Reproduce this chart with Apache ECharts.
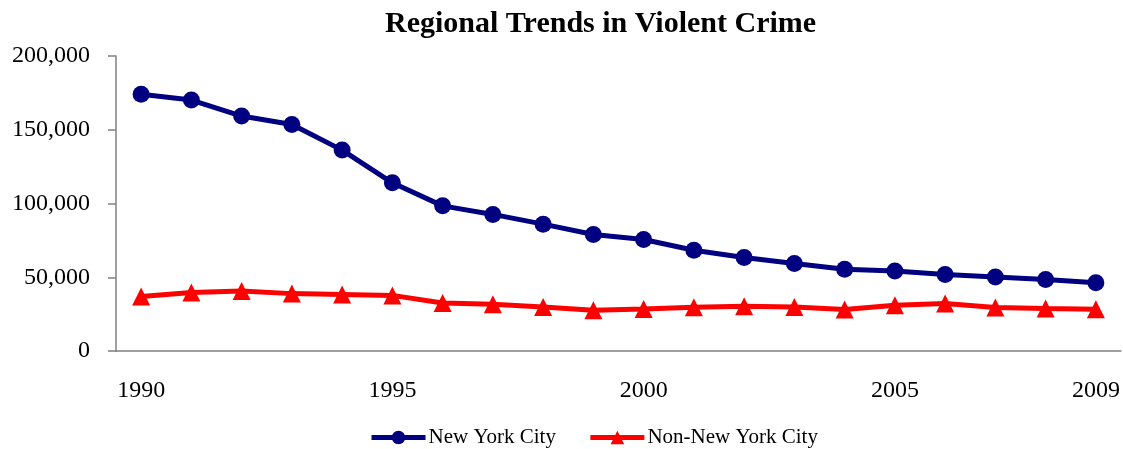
<!DOCTYPE html>
<html>
<head>
<meta charset="utf-8">
<script src="https://cdn.jsdelivr.net/npm/echarts@6/dist/echarts.min.js"></script>
<style>
  html, body { margin: 0; padding: 0; background: #fff; }
  #chart { width: 1123px; height: 449px; }
</style>
</head>
<body>
<div id="chart"></div>
<script>
const years = ['1990', '1991', '1992', '1993', '1994', '1995', '1996', '1997', '1998', '1999',
  '2000', '2001', '2002', '2003', '2004', '2005', '2006', '2007', '2008', '2009']
const nycValues = [174000, 170100, 159300, 153600, 136200, 114000, 98400, 92600, 86000, 79000,
  75600, 68300, 63400, 59300, 55400, 54300, 51800, 50200, 48500, 46200]
const nonNycValues = [37000, 39600, 40600, 38900, 38300, 37700, 32600, 31700, 29900, 27600,
  28500, 29700, 30400, 29900, 28100, 31000, 32200, 29500, 28800, 28300]
const shownYears = [0, 5, 10, 15, 19]

const font = '"Liberation Serif", "DejaVu Serif", serif'
const axisColor = '#808080'

const chart = echarts.init(document.getElementById('chart'))
chart.setOption({
  animation: false,
  backgroundColor: '#fff',
  title: {
    text: 'Regional Trends in Violent Crime',
    left: 380,
    top: 4,
    textStyle: { fontFamily: font, fontSize: 30, fontWeight: 'bold', color: '#000' }
  },
  legend: {
    left: 364,
    top: 422,
    itemWidth: 54,
    itemHeight: 17,
    itemGap: 32,
    lineStyle: { width: 5 },
    textStyle: { fontFamily: font, fontSize: 21, color: '#000', padding: [0, 0, 0, -2] },
    data: ['New York City', 'Non-New York City']
  },
  grid: { left: 116, right: 2, top: 56, bottom: 98, containLabel: false },
  xAxis: {
    type: 'category',
    data: years,
    boundaryGap: true,
    axisLine: { lineStyle: { color: axisColor, width: 1.5 } },
    axisTick: { interval: 0, length: 7, lineStyle: { color: axisColor, width: 1.5 } },
    axisLabel: {
      interval: (i) => shownYears.includes(i),
      margin: 28,
      fontFamily: font,
      fontSize: 24,
      color: '#000'
    },
    splitLine: { show: false }
  },
  yAxis: {
    type: 'value',
    min: 0,
    max: 200000,
    interval: 50000,
    axisLine: { show: true, lineStyle: { color: axisColor, width: 1.5 } },
    axisTick: { show: true, length: 8, lineStyle: { color: axisColor, width: 1.5 } },
    axisLabel: {
      margin: 26,
      fontFamily: font,
      fontSize: 24,
      color: '#000',
      formatter: (v) => v.toLocaleString('en-US')
    },
    splitLine: { show: false }
  },
  series: [
    {
      name: 'New York City',
      type: 'line',
      data: nycValues,
      symbol: 'circle',
      symbolSize: 17,
      lineStyle: { color: '#000080', width: 5 },
      itemStyle: { color: '#000080' }
    },
    {
      name: 'Non-New York City',
      type: 'line',
      data: nonNycValues,
      symbol: 'triangle',
      symbolSize: 18,
      lineStyle: { color: '#ff0000', width: 5 },
      itemStyle: { color: '#ff0000' }
    }
  ]
})
</script>
</body>
</html>
